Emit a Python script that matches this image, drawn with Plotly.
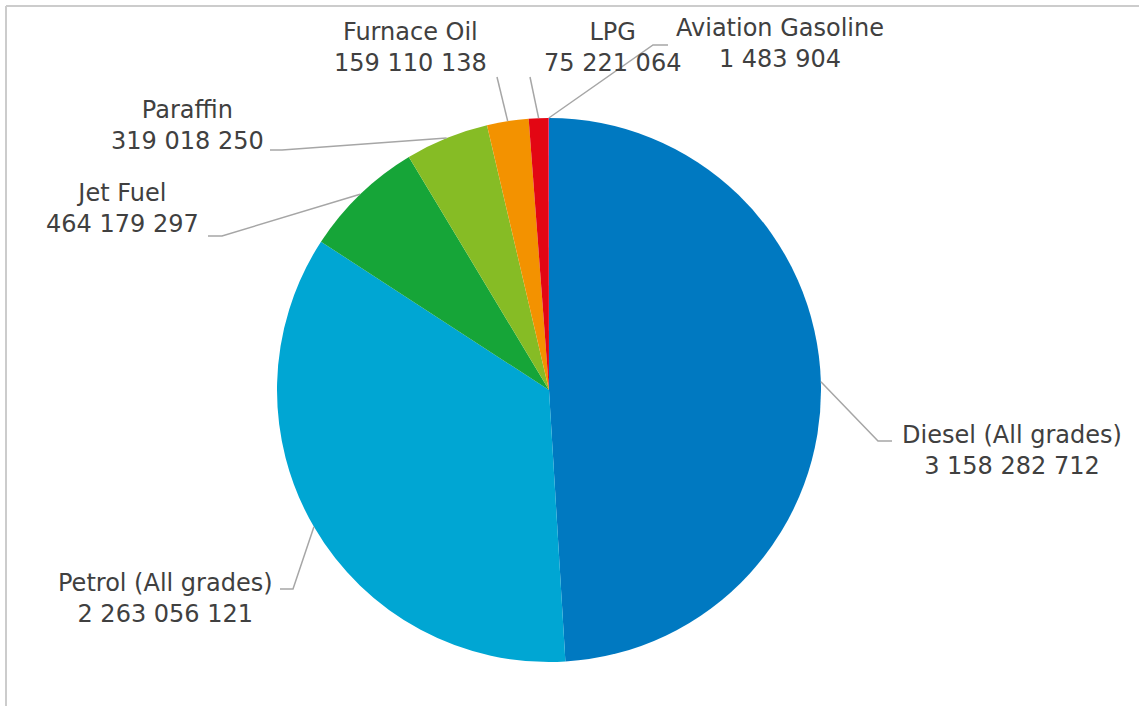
import math
import plotly.graph_objects as go

# Fuel sales volumes by product
products = ["Diesel (All grades)", "Petrol (All grades)", "Jet Fuel", "Paraffin",
            "Furnace Oil", "LPG", "Aviation Gasoline"]
volumes = [3158282712, 2263056121, 464179297, 319018250, 159110138, 75221064, 1483904]
value_labels = ["3 158 282 712", "2 263 056 121", "464 179 297", "319 018 250",
                "159 110 138", "75 221 064", "1 483 904"]
colors = ["#0079C1", "#00A6D3", "#16A538", "#86BC25", "#F39200", "#E30613", "#E5007D"]

W, H = 1139, 706
CX, CY, R = 549, 390, 272          # pie centre and radius in pixels

# label placement: text block centre, leader bend point, leader end (pixels)
label_pos = [
    dict(text=(1012, 450), bend=(878, 441), end=(892, 441)),
    dict(text=(165, 598), bend=(293, 589), end=(280, 589)),
    dict(text=(122, 209), bend=(222, 236), end=(208, 236)),
    dict(text=(187, 126), bend=(282, 150), end=(270, 150)),
    dict(text=(410, 47), bend=(497, 77), end=None),
    dict(text=(612, 47), bend=(530, 77), end=None),
    dict(text=(780, 44), bend=(653, 45), end=(668, 45)),
]


def px(x):
    return x / W


def py(y):
    return 1 - y / H


fig = go.Figure(go.Pie(
    labels=products,
    values=volumes,
    sort=False,
    direction="clockwise",
    rotation=0,
    marker=dict(colors=colors, line=dict(width=0)),
    textinfo="none",
    hoverinfo="label+value",
    showlegend=False,
    domain=dict(x=[px(CX - R), px(CX + R)], y=[py(CY + R), py(CY - R)]),
))

shapes = []
annotations = []
total = sum(volumes)
cum = 0.0
line_style = dict(color="#A6A6A6", width=1.5)
for name, vol, vlab, pos in zip(products, volumes, value_labels, label_pos):
    mid = (cum + vol / 2) / total
    cum += vol
    ang = 2 * math.pi * mid
    sx = CX + R * math.sin(ang)
    sy = CY - R * math.cos(ang)
    bx, by = pos["bend"]
    path = f"M {px(sx)},{py(sy)} L {px(bx)},{py(by)}"
    if pos["end"] is not None:
        ex, ey = pos["end"]
        path += f" L {px(ex)},{py(ey)}"
    shapes.append(dict(type="path", xref="paper", yref="paper", path=path,
                       line=line_style))
    tx, ty = pos["text"]
    annotations.append(dict(
        x=px(tx), y=py(ty), xref="paper", yref="paper",
        text=f"{name}<br>{vlab}", showarrow=False,
        xanchor="center", yanchor="middle", align="center",
        font=dict(family="DejaVu Sans", size=24, color="#404040"),
    ))

# chart frame (top and left edges)
frame = dict(color="#CCCCCC", width=2)
shapes.append(dict(type="line", xref="paper", yref="paper",
                   x0=px(6), y0=py(H), x1=px(6), y1=py(6), line=frame))
shapes.append(dict(type="line", xref="paper", yref="paper",
                   x0=px(6), y0=py(6), x1=px(W), y1=py(6), line=frame))

fig.update_layout(
    width=W, height=H,
    margin=dict(l=0, r=0, t=0, b=0),
    paper_bgcolor="white",
    plot_bgcolor="white",
    shapes=shapes,
    annotations=annotations,
)

fig.write_html("out.html")
